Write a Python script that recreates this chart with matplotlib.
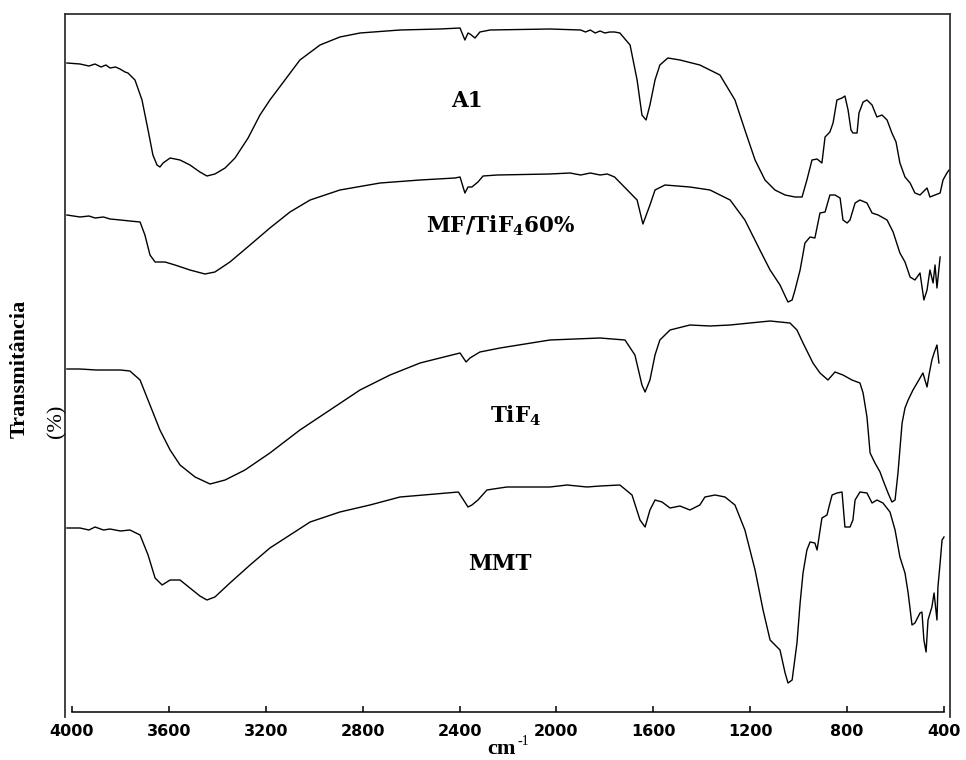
import matplotlib
matplotlib.use("Agg")
import matplotlib.pyplot as plt
import numpy as np

# ---------------- data (wavenumber cm-1, transmittance a.u.) ----------------
a1_wn = [4021, 3967, 3930, 3905, 3880, 3860, 3843, 3820, 3802, 3781, 3769, 3740, 3711, 3686, 3666,
         3649, 3637, 3624, 3595, 3554, 3513, 3472, 3443, 3410, 3368, 3327, 3273, 3224, 3183, 3121,
         3059, 2976, 2894, 2811, 2646, 2481, 2398, 2378, 2365, 2357, 2336, 2316, 2274, 2027, 1900,
         1880, 1860, 1840, 1820, 1800, 1780, 1760, 1738, 1696, 1667, 1647, 1630, 1614, 1593, 1573,
         1540, 1490, 1408, 1325, 1263, 1222, 1180, 1139, 1098, 1056, 1015, 986, 966, 945, 924, 904,
         891, 871, 858, 842, 821, 809, 796, 784, 776, 759, 751, 734, 718, 697, 677, 656, 635, 615,
         598, 582, 561, 540, 520, 499, 470, 458, 437, 416, 404, 388, 379]
a1_t = [654, 653, 651, 653, 650, 652, 649, 650, 648, 645, 644, 637, 617, 587, 562,
        552, 550, 554, 559, 557, 552, 545, 541, 543, 549, 559, 579, 602, 617, 637,
        657, 672, 680, 684, 687, 688, 689, 677, 684, 683, 679, 685, 687, 688, 687,
        685, 687, 684, 686, 684, 685, 685, 684, 672, 637, 602, 597, 612, 637, 652,
        659, 657, 652, 642, 617, 587, 557, 537, 527, 522, 520, 520, 537, 557, 558, 554,
        580, 585, 594, 617, 619, 621, 607, 587, 584, 584, 604, 615, 617, 612, 600, 602, 597, 584,
        575, 554, 540, 534, 524, 522, 529, 520, 522, 524, 537, 544, 547]

mf_wn = [4021, 3967, 3930, 3905, 3870, 3843, 3800, 3761, 3719, 3699, 3678, 3657, 3616, 3575, 3513,
         3451, 3410, 3348, 3265, 3183, 3100, 3017, 2894, 2728, 2563, 2419, 2398, 2378, 2365, 2349,
         2324, 2303, 2245, 2027, 1944, 1900, 1860, 1820, 1790, 1760, 1667, 1643, 1614, 1593, 1552,
         1449, 1366, 1283, 1222, 1160, 1118, 1077, 1056, 1044, 1027, 1015, 994, 974, 953, 933, 912,
         891, 871, 850, 829, 817, 800, 788, 767, 747, 718, 697, 672, 635, 610, 582, 561, 540, 520,
         499, 483, 470, 458, 445, 437, 429, 416]
mf_t = [502, 500, 501, 499, 500, 498, 497, 496, 495, 482, 462, 455, 455, 452, 447,
        443, 445, 455, 472, 489, 505, 517, 527, 534, 537, 539, 540, 524, 530, 530,
        535, 541, 542, 543, 544, 542, 544, 542, 543, 540, 517, 493, 512, 527, 532,
        530, 527, 517, 497, 467, 447, 432, 421, 415, 417, 427, 447, 474, 480, 479, 504,
        505, 522, 522, 519, 497, 494, 497, 514, 517, 514, 504, 502, 497, 485, 464, 455, 440, 437,
        444, 417, 427, 447, 434, 452, 429, 460]

tif_wn = [4021, 3967, 3900, 3800, 3761, 3719, 3678, 3637, 3595, 3554, 3492, 3430, 3368, 3286, 3183,
          3059, 2935, 2811, 2687, 2563, 2481, 2398, 2373, 2357, 2316, 2233, 2027, 1820, 1717, 1676,
          1647, 1634, 1614, 1593, 1573, 1531, 1449, 1366, 1283, 1201, 1118, 1077, 1036, 1007, 982,
          941, 912, 879, 850, 817, 780, 747, 734, 718, 705, 685, 664, 652, 631, 615, 602, 590, 573,
          561, 548, 528, 499, 487, 470, 462, 450, 441, 429, 421]
tif_t = [348, 348, 347, 347, 346, 337, 312, 287, 267, 252, 240, 233, 237, 247, 264,
         287, 307, 327, 342, 354, 359, 364, 355, 359, 365, 369, 377, 379, 377, 362,
         332, 325, 337, 362, 377, 387, 392, 391, 392, 394, 396, 395, 394, 387, 374,
         354, 344, 337, 345, 342, 337, 334, 324, 300, 264, 254, 245, 237, 224, 215, 217, 244, 294,
         309, 317, 327, 339, 344, 330, 342, 357, 364, 372, 354]

mmt_wn = [4021, 3967, 3930, 3905, 3870, 3843, 3800, 3761, 3719, 3686, 3657, 3628, 3595, 3554, 3513,
          3472, 3443, 3410, 3348, 3265, 3183, 3100, 3017, 2894, 2770, 2646, 2500, 2405, 2365, 2349,
          2324, 2287, 2233, 2204, 2027, 1956, 1874, 1820, 1738, 1688, 1655, 1634, 1614, 1593, 1564,
          1531, 1490, 1449, 1408, 1387, 1345, 1304, 1263, 1222, 1180, 1147, 1118, 1077, 1056, 1044,
          1027, 1007, 994, 982, 966, 953, 933, 924, 904, 883, 875, 862, 842, 821, 809, 788, 776, 767,
          747, 718, 697, 677, 652, 623, 602, 582, 561, 548, 532, 520, 499, 491, 483, 474, 466, 450,
          441, 429, 425, 416, 408, 400]
mmt_t = [189, 189, 187, 190, 187, 188, 186, 187, 182, 162, 139, 132, 137, 137, 129,
         121, 117, 120, 134, 152, 169, 182, 195, 205, 212, 220, 223, 225, 210, 212,
         217, 227, 229, 230, 230, 232, 230, 231, 232, 222, 197, 190, 207, 217, 215,
         209, 211, 207, 212, 220, 222, 220, 212, 187, 147, 107, 77, 67, 44, 34,
         37, 74, 114, 144, 167, 175, 174, 167, 199, 202, 210, 222, 224, 225, 190, 190, 197, 217,
         225, 224, 214, 217, 214, 205, 187, 160, 144, 124, 92, 94, 104, 105, 77, 65, 97, 110,
         124, 97, 130, 154, 177, 180]

labels = ["A1", "MF/TiF$_{\\mathregular{4}}$60%", "TiF$_{\\mathregular{4}}$", "MMT"]
label_wn = [2369, 2229, 2167, 2233]
label_t = [610, 485, 295, 147]

xticks = [4000, 3600, 3200, 2800, 2400, 2000, 1600, 1200, 800, 400]

# ---------------- figure ----------------
W, H = 966, 760
fig = plt.figure(figsize=(W / 100, H / 100), dpi=100)
ax = fig.add_axes([65 / W, 43 / H, 885 / W, 703 / H])

for wn, t in [(a1_wn, a1_t), (mf_wn, mf_t), (tif_wn, tif_t), (mmt_wn, mmt_t)]:
    ax.plot(wn, t, color="black", lw=1.0)

ax.set_xlim(4028.9, 375.2)
ax.set_ylim(0, 703)

for side in ["left", "right", "top"]:
    ax.spines[side].set_color("#333333")
    ax.spines[side].set_linewidth(1.3)
ax.spines["bottom"].set_position(("data", 5))
ax.spines["bottom"].set_bounds(400, 4000)
ax.spines["bottom"].set_linewidth(1.1)

ax.set_xticks(xticks)
ax.set_xticklabels([str(v) for v in xticks], fontfamily="DejaVu Sans",
                   fontweight="bold", fontsize=11.5)
ax.tick_params(axis="x", direction="in", length=4.5, width=1.1, pad=9)
ax.set_yticks([])

for txt, x, y in zip(labels, label_wn, label_t):
    ax.text(x, y, txt, ha="center", va="baseline", fontfamily="DejaVu Serif",
            fontweight="bold", fontsize=15.5)

fig.text(20 / W, 1 - 369 / H, "Transmitância", rotation=90, ha="center", va="center",
         fontfamily="Liberation Serif", fontweight="bold", fontsize=16)
fig.text(57 / W, 1 - 421 / H, "(%)", rotation=90, ha="center", va="center",
         fontfamily="Liberation Serif", fontsize=16)
fig.text(516 / W, 1 - 754 / H, "cm", ha="right", va="baseline",
         fontfamily="Liberation Serif", fontweight="bold", fontsize=16)
fig.text(517 / W, 1 - 745 / H, "-1", ha="left", va="baseline",
         fontfamily="Liberation Serif", fontsize=10)

fig.savefig("out.png", dpi=100)
